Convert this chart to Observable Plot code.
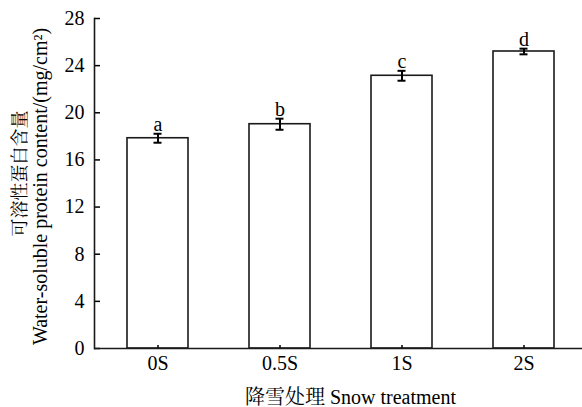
<!DOCTYPE html>
<html>
<head>
<meta charset="utf-8">
<script src="https://cdn.jsdelivr.net/npm/d3@7"></script>
<script src="https://cdn.jsdelivr.net/npm/@observablehq/plot@0.6"></script>
<style>
  html, body { margin: 0; padding: 0; background: #fff; }
  #chart svg { display: block; }
</style>
</head>
<body>
<div id="chart"></div>
<script>
const categories = ["0S", "0.5S", "1S", "2S"];
const means = [17.84, 19.03, 23.14, 25.2];
const errors = [0.38, 0.47, 0.42, 0.24];
const letters = ["a", "b", "c", "d"];
const yTicks = [0, 4, 8, 12, 16, 20, 24, 28];
const yTitleCn = "可溶性蛋白含量";
const yTitleEn = "Water-soluble protein content/(mg/cm²)";
const xTitle = "降雪处理 Snow treatment";

const data = categories.map((c, i) => ({cat: c, mean: means[i], se: errors[i], letter: letters[i]}));
const font = "'Liberation Serif', 'Times New Roman', 'Noto Serif CJK SC', 'Noto Sans CJK SC', serif";

const chart = Plot.plot({
  width: 582,
  height: 407,
  marginTop: 18,
  marginBottom: 59,
  marginLeft: 94,
  marginRight: 0,
  style: {fontFamily: font, fontSize: "20px", color: "#000", background: "#fff"},
  x: {domain: categories, range: [95, 585], paddingInner: 0.5, paddingOuter: 0.25, axis: null},
  y: {domain: [0, 28], axis: null},
  marks: [
    Plot.barY(data, {x: "cat", y: "mean", fill: "#fff", stroke: "#1a1a1a", strokeWidth: 1.6}),
    Plot.ruleX(data, {x: "cat", y1: d => d.mean - d.se, y2: d => d.mean + d.se, stroke: "#000", strokeWidth: 2}),
    Plot.tickY(data, {x: "cat", y: d => d.mean + d.se, insetLeft: 26.5, insetRight: 26.5, stroke: "#000", strokeWidth: 2}),
    Plot.tickY(data, {x: "cat", y: d => d.mean - d.se, insetLeft: 26.5, insetRight: 26.5, stroke: "#000", strokeWidth: 2}),
    Plot.text(data, {x: "cat", y: d => d.mean + d.se, text: "letter", lineAnchor: "bottom", dy: -3, fontSize: 20, fill: "#000"}),
    Plot.axisY({ticks: yTicks, tickSize: -6, tickPadding: 16, label: null, stroke: "#000", strokeWidth: 1.5, fontSize: 20}),
    Plot.axisX({tickSize: -3, tickPadding: 10, label: null, stroke: "#000", strokeWidth: 1.5, fontSize: 20}),
    Plot.frame({anchor: "left", stroke: "#1a1a1a", strokeWidth: 1.6}),
    Plot.ruleY([0], {stroke: "#1a1a1a", strokeWidth: 1.6}),
    Plot.text([yTitleCn], {frameAnchor: "left", rotate: -90, textAnchor: "middle", dx: -74, dy: -10, fontSize: 18, fill: "#000"}),
    Plot.text([yTitleEn], {frameAnchor: "left", rotate: -90, textAnchor: "middle", dx: -54, dy: 3, fontSize: 20, fill: "#000"}),
    Plot.text([xTitle], {frameAnchor: "bottom", dx: 12, dy: 49, lineAnchor: "middle", fontSize: 20, fill: "#000"})
  ]
});
document.getElementById("chart").appendChild(chart);
</script>
</body>
</html>
